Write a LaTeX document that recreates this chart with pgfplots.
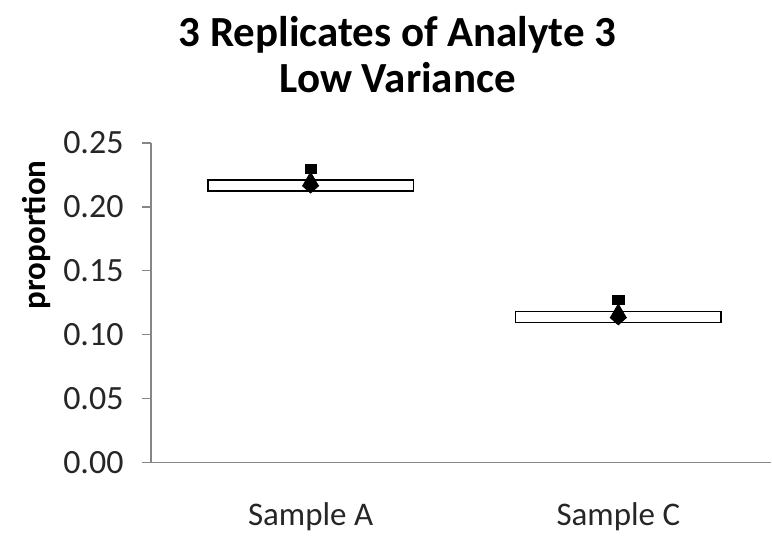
\documentclass[border=0pt]{standalone}
\usepackage{fontspec}
\setmainfont{Carlito}
\usepackage{pgfplots}
\pgfplotsset{compat=1.18}
\definecolor{axisgray}{HTML}{868686}
\definecolor{txt}{HTML}{262626}
\begin{document}
\begin{tikzpicture}
\begin{axis}[
  scale only axis, width=310.5pt, height=160pt,
  xmin=-0.519, xmax=1.497, ymin=0, ymax=0.25,
  axis x line*=bottom, axis y line*=left,
  axis line style={draw=axisgray, line width=0.75pt},
  ytick={0,0.05,0.1,0.15,0.2,0.25},
  xtick={0,1}, xticklabels={Sample A, Sample C},
  tick align=outside, major tick length=4.5pt,
  tick style={draw=axisgray, line width=0.75pt},
  xtick style={draw=none},
  yticklabel style={font=\fontsize{17}{20}\selectfont, text=txt, inner sep=0pt, xshift=-9pt,
    /pgf/number format/.cd, fixed, fixed zerofill, precision=2, assume math mode=true},
  xticklabel style={font=\fontsize{16.5}{20}\selectfont, text=txt, anchor=base, yshift=-27pt},
  clip=false,
]
% boxes
\addplot[fill=white, draw=black, line width=0.75pt] coordinates {(-0.334,0.2125) (0.334,0.2125) (0.334,0.2211) (-0.334,0.2211)} --cycle;
\addplot[fill=white, draw=black, line width=0.75pt] coordinates {(0.666,0.1094) (1.334,0.1094) (1.334,0.1180) (0.666,0.1180)} --cycle;
% markers
\addplot[only marks, mark=square*, mark size=2.8pt, mark options={yscale=0.8, fill=black, draw=black}] coordinates {(0,0.2298) (1,0.1270)};
\addplot[only marks, mark=triangle*, mark size=4.2pt, mark options={fill=black, draw=black}] coordinates {(0,0.2205) (1,0.1175)};
\addplot[only marks, mark=diamond*, mark size=3.6pt, mark options={xscale=1.5, fill=black, draw=black}] coordinates {(0,0.2164) (1,0.1133)};
\end{axis}
\node[rotate=90, font=\fontsize{16.5}{20}\selectfont\bfseries, text=black] at (-57pt,114pt) {proportion};
\node[font=\fontsize{21.5}{25}\selectfont\bfseries, anchor=base] at (123.5pt,208pt) {3 Replicates of Analyte 3};
\node[font=\fontsize{21.5}{25}\selectfont\bfseries, anchor=base] at (123.5pt,185pt) {Low Variance};
\useasboundingbox (-75.5pt,-33.5pt) rectangle (310.5pt,231.5pt);
\end{tikzpicture}
\end{document}
